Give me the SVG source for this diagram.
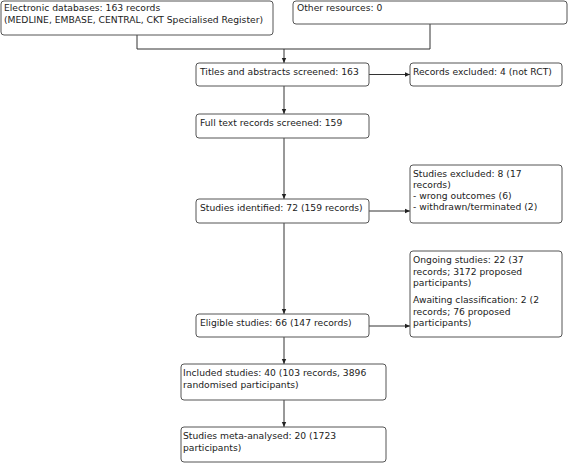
<svg xmlns="http://www.w3.org/2000/svg" width="568" height="463" viewBox="0 0 568 463">
<style>
.box{fill:#fff;stroke:#555;stroke-width:1}
.t{font-family:"DejaVu Sans",sans-serif;font-size:9.2px;fill:#222}
.c{fill:none;stroke:#333;stroke-width:1}
</style>
<defs>
<marker id="ah" markerWidth="6" markerHeight="6" refX="5" refY="3" orient="auto" markerUnits="userSpaceOnUse">
<path d="M0,0.8 L5,3 L0,5.2 Z" fill="#222"/>
</marker>
</defs>
<rect width="568" height="463" fill="#fff"/>
<g id="connectors">
<path class="c" d="M137,35 V49 H430 V24"/>
<path class="c" d="M284,49 V63" marker-end="url(#ah)"/>
<path class="c" d="M369,74.5 H410" marker-end="url(#ah)"/>
<path class="c" d="M284,86 V114" marker-end="url(#ah)"/>
<path class="c" d="M284,138 V199" marker-end="url(#ah)"/>
<path class="c" d="M369,211 H410" marker-end="url(#ah)"/>
<path class="c" d="M284,223 V314" marker-end="url(#ah)"/>
<path class="c" d="M369,326 H410" marker-end="url(#ah)"/>
<path class="c" d="M284,337 V364" marker-end="url(#ah)"/>
<path class="c" d="M284,400 V427" marker-end="url(#ah)"/>
</g>
<g id="electronic">
<rect class="box" x="1" y="1" width="272" height="34" rx="3"/>
<text class="t" x="4" y="11">Electronic databases: 163 records</text>
<text class="t" x="4" y="23">(MEDLINE, EMBASE, CENTRAL, CKT Specialised Register)</text>
</g>
<g id="other">
<rect class="box" x="293" y="1" width="274" height="23" rx="3"/>
<text class="t" x="297" y="11">Other resources: 0</text>
</g>
<g id="titles">
<rect class="box" x="196" y="63" width="173" height="23" rx="3"/>
<text class="t" x="200" y="75">Titles and abstracts screened: 163</text>
</g>
<g id="records-excluded">
<rect class="box" x="410" y="63" width="152" height="23" rx="3"/>
<text class="t" x="413" y="75">Records excluded: 4 (not RCT)</text>
</g>
<g id="fulltext">
<rect class="box" x="196" y="114" width="173" height="24" rx="3"/>
<text class="t" x="200" y="126">Full text records screened: 159</text>
</g>
<g id="identified">
<rect class="box" x="196" y="199" width="173" height="24" rx="3"/>
<text class="t" x="200" y="211">Studies identified: 72 (159 records)</text>
</g>
<g id="studies-excluded">
<rect class="box" x="410" y="165" width="152" height="58" rx="3"/>
<text class="t" x="413" y="177">Studies excluded: 8 (17</text>
<text class="t" x="413" y="188">records)</text>
<text class="t" x="413" y="199">- wrong outcomes (6)</text>
<text class="t" x="413" y="210">- withdrawn/terminated (2)</text>
</g>
<g id="ongoing">
<rect class="box" x="410" y="251" width="152" height="86" rx="3"/>
<text class="t" x="413" y="263">Ongoing studies: 22 (37</text>
<text class="t" x="413" y="274.5">records; 3172 proposed</text>
<text class="t" x="413" y="286">participants)</text>
<text class="t" x="413" y="303">Awaiting classification: 2 (2</text>
<text class="t" x="413" y="314.5">records; 76 proposed</text>
<text class="t" x="413" y="326">participants)</text>
</g>
<g id="eligible">
<rect class="box" x="196" y="314" width="173" height="23" rx="3"/>
<text class="t" x="200" y="326">Eligible studies: 66 (147 records)</text>
</g>
<g id="included">
<rect class="box" x="181" y="364" width="205" height="36" rx="3"/>
<text class="t" x="183" y="376">Included studies: 40 (103 records, 3896</text>
<text class="t" x="183" y="388">randomised participants)</text>
</g>
<g id="meta">
<rect class="box" x="181" y="427" width="205" height="35" rx="3"/>
<text class="t" x="183" y="439">Studies meta-analysed: 20 (1723</text>
<text class="t" x="183" y="451">participants)</text>
</g>
</svg>
